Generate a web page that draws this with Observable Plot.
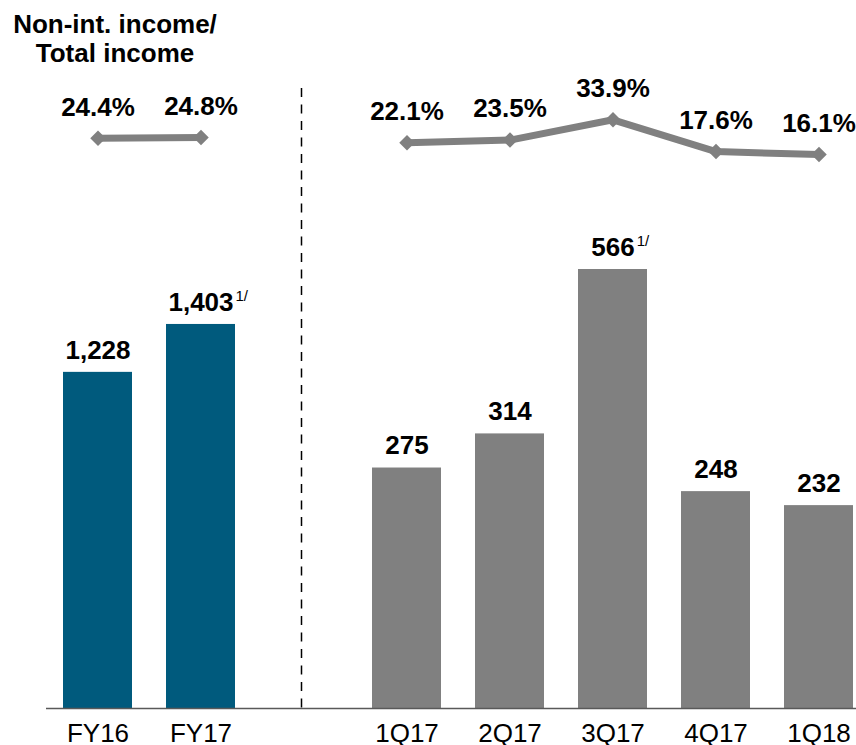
<!DOCTYPE html>
<html>
<head>
<meta charset="utf-8">
<script src="https://cdn.jsdelivr.net/npm/d3@7"></script>
<script src="https://cdn.jsdelivr.net/npm/@observablehq/plot@0.6"></script>
<style>
  body { margin: 0; background: #fff; }
  #chart { position: relative; width: 856px; height: 745px; font-family: "Liberation Sans", Arial, sans-serif; }
  #chart svg { position: absolute; left: 0; top: 0; }
  #title { position: absolute; left: 0; top: 10px; width: 230px; text-align: center;
           font: bold 26px/29px "Liberation Sans", Arial, sans-serif; color: #000; }
</style>
</head>
<body>
<div id="chart"><div id="title">Non-int. income/<br>Total income</div></div>
<script>
// ---- data ----
const slots = ["FY16", "FY17", "gap", "1Q17", "2Q17", "3Q17", "4Q17", "1Q18"];
const tickLabels = ["FY16", "FY17", "1Q17", "2Q17", "3Q17", "4Q17", "1Q18"];

const annualPeriods = ["FY16", "FY17"];
const annualIncome = [1228, 1403];
const annualRatio = [24.4, 24.8];
const annualNotes = ["", "1/"];

const quarterPeriods = ["1Q17", "2Q17", "3Q17", "4Q17", "1Q18"];
const quarterIncome = [275, 314, 566, 248, 232];
const quarterRatio = [22.1, 23.5, 33.9, 17.6, 16.1];
const quarterNotes = ["", "", "1/", "", ""];

const annual = annualPeriods.map((p, i) => ({period: p, income: annualIncome[i], ratio: annualRatio[i], note: annualNotes[i], group: "FY"}));
const quarter = quarterPeriods.map((p, i) => ({period: p, income: quarterIncome[i], ratio: quarterRatio[i], note: quarterNotes[i], group: "Q"}));

// ---- styling ----
const W = 856, H = 745;
const FONT = "Liberation Sans, Arial, sans-serif";
const teal = "#005A7D", gray = "#808080";
const fmt = d3.format(",");
const xScale = {type: "band", domain: slots, range: [46, 870], paddingInner: 0.33, paddingOuter: 0.165, align: 0.5, axis: null, label: null};
const baseStyle = {background: "transparent", fontFamily: FONT, fontSize: "26px", color: "#000", overflow: "visible"};

const ctx = document.createElement("canvas").getContext("2d");
ctx.font = `bold 26px "Liberation Sans", Arial, sans-serif`;

function noteMarks(data) {
  return data.filter(d => d.note).map(d => Plot.text([d], {
    x: "period", y: "income", text: "note", textAnchor: "start",
    dx: ctx.measureText(fmt(d.income)).width / 2 + 2, dy: -28,
    fontSize: 15, fill: "#000"
  }));
}

function valueLabels(data) {
  return Plot.text(data, {x: "period", y: "income", text: d => fmt(d.income), dy: -22, fontWeight: "bold", fontSize: 26, fill: "#000"});
}

const chart = document.getElementById("chart");

// annual bars (own scale) + separator
chart.appendChild(Plot.plot({
  width: W, height: H, marginTop: 88, marginBottom: 37, marginLeft: 46, marginRight: 0,
  x: xScale,
  y: {domain: [0, 2265], axis: null},
  style: baseStyle,
  marks: [
    Plot.barY(annual, {x: "period", y: "income", fill: teal}),
    valueLabels(annual),
    ...noteMarks(annual),
    Plot.ruleX(["gap"], {stroke: "#000", strokeWidth: 1.5, strokeDasharray: "9,7.5", dx: -2.5})
  ]
}));

// quarterly bars (own scale, 3Q17 bar drawn truncated as in the source)
chart.appendChild(Plot.plot({
  width: W, height: H, marginTop: 269, marginBottom: 37, marginLeft: 46, marginRight: 0,
  x: xScale,
  y: {domain: [0, 502], clamp: true, axis: null},
  style: baseStyle,
  marks: [
    Plot.barY(quarter, {x: "period", y: "income", fill: gray}),
    valueLabels(quarter),
    ...noteMarks(quarter),
    Plot.ruleY([0], {stroke: "#595959", strokeWidth: 1.5}),
    Plot.axisX({ticks: tickLabels, tickSize: 0, tickPadding: 15, fontSize: 26, fill: "#000", fontWeight: "normal", label: null})
  ]
}));

// ratio line (own scale)
const ratios = annual.concat(quarter);
chart.appendChild(Plot.plot({
  width: W, height: H, marginTop: 0, marginBottom: 0, marginLeft: 46, marginRight: 0,
  x: xScale,
  y: {domain: [0, 40], range: [185.4, 107.4], axis: null},
  style: baseStyle,
  marks: [
    Plot.line(ratios, {x: "period", y: "ratio", z: "group", stroke: gray, strokeWidth: 7, strokeLinejoin: "miter"}),
    Plot.dot(ratios, {x: "period", y: "ratio", symbol: "diamond2", r: 7, fill: gray, stroke: "none"}),
    Plot.text(ratios, {x: "period", y: "ratio", text: d => d.ratio.toFixed(1) + "%", dy: -31, fontWeight: "bold", fontSize: 26, fill: "#000"})
  ]
}));
</script>
</body>
</html>
